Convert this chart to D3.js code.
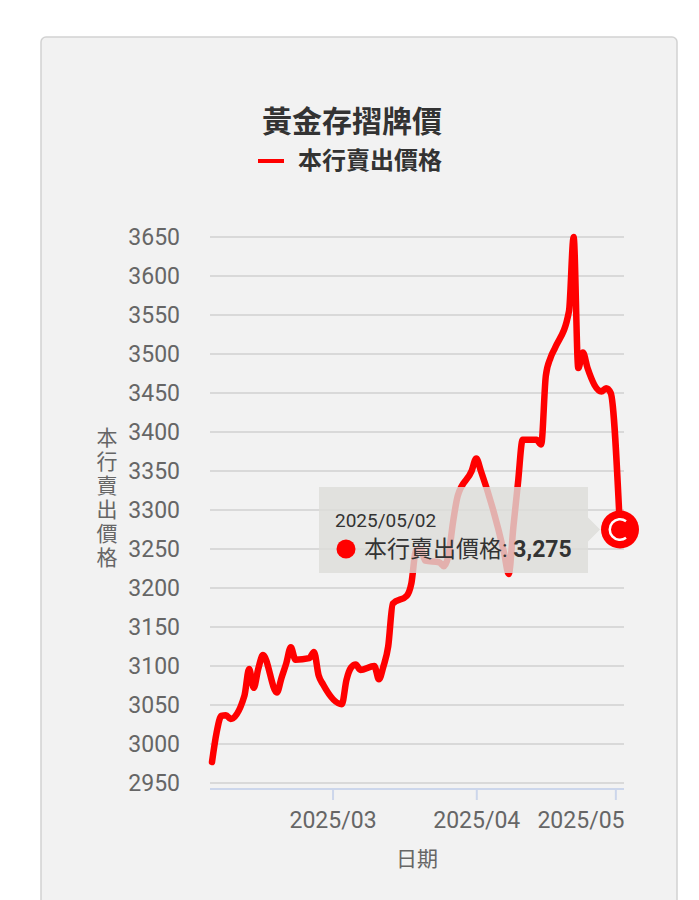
<!DOCTYPE html>
<html>
<head>
<meta charset="utf-8">
<script src="https://cdn.jsdelivr.net/npm/d3@7"></script>
<style>
  body { margin: 0; background: #fff; }
  svg { display: block; font-family: Roboto, "Noto Sans CJK TC", sans-serif; }
</style>
</head>
<body>
<svg id="chart"></svg>
<script>
var width = 699, height = 900;

// data (business days)
var dates = [
  "2025/02/03","2025/02/04","2025/02/05","2025/02/06","2025/02/07",
  "2025/02/10","2025/02/11","2025/02/12","2025/02/13","2025/02/14",
  "2025/02/17","2025/02/18","2025/02/19","2025/02/20","2025/02/21",
  "2025/02/24","2025/02/25","2025/02/26","2025/02/27",
  "2025/03/03","2025/03/04","2025/03/05","2025/03/06","2025/03/07",
  "2025/03/10","2025/03/11","2025/03/12","2025/03/13","2025/03/14",
  "2025/03/17","2025/03/18","2025/03/19","2025/03/20","2025/03/21",
  "2025/03/24","2025/03/25","2025/03/26","2025/03/27","2025/03/28",
  "2025/03/31","2025/04/01","2025/04/02",
  "2025/04/07","2025/04/08","2025/04/09","2025/04/10","2025/04/11",
  "2025/04/14","2025/04/15","2025/04/16","2025/04/17","2025/04/18",
  "2025/04/21","2025/04/22","2025/04/23","2025/04/24","2025/04/25",
  "2025/04/28","2025/04/29","2025/04/30","2025/05/02"
];
var prices = [
  2977, 3015, 3036, 3037, 3032,
  3062, 3096, 3072, 3097, 3114,
  3066, 3085, 3103, 3124, 3108,
  3110, 3118, 3088, 3076,
  3051, 3082, 3098, 3102, 3095,
  3100, 3083, 3100, 3125, 3180,
  3190, 3206, 3248, 3250, 3235,
  3233, 3228, 3242, 3285, 3318,
  3350, 3366, 3350,
  3245, 3218, 3278, 3335, 3390,
  3390, 3384, 3472, 3495, 3508,
  3555, 3650, 3482, 3502, 3482,
  3452, 3456, 3450, 3275
];
var yTicks = [2950, 3000, 3050, 3100, 3150, 3200, 3250, 3300, 3350, 3400, 3450, 3500, 3550, 3600, 3650];
var xTicks = ["2025/03/01", "2025/04/01", "2025/05/01"];

var title = "黃金存摺牌價";
var seriesName = "本行賣出價格";
var xTitle = "日期";
var hoverIndex = dates.length - 1;

var parse = d3.timeParse("%Y/%m/%d");
var data = dates.map((d, i) => ({ date: parse(d), value: prices[i] }));

var plotLeft = 210, plotRight = 624, plotTop = 237, plotBottom = 783;

var x = d3.scaleTime()
    .domain(d3.extent(data, d => d.date))
    .range([212, 620]);

var y = d3.scaleLinear()
    .domain([2950, 3650])
    .range([plotBottom, plotTop]);

const svg = d3.select("svg#chart")
    .attr("width", width)
    .attr("height", height);

// card
svg.append("rect")
    .attr("x", 41).attr("y", 37)
    .attr("width", 636).attr("height", 900)
    .attr("rx", 5)
    .style("fill", "#f2f2f2")
    .style("stroke", "#d2d2d2")
    .style("stroke-width", 1.5);

// title + legend
svg.append("text")
    .attr("x", 352).attr("y", 132)
    .attr("text-anchor", "middle")
    .style("font-size", "30px")
    .style("font-weight", "bold")
    .style("fill", "#333")
    .text(title);

svg.append("line")
    .attr("x1", 258).attr("x2", 284)
    .attr("y1", 161).attr("y2", 161)
    .style("stroke", "#ff0000")
    .style("stroke-width", 4);

svg.append("text")
    .attr("x", 298).attr("y", 169)
    .style("font-size", "24px")
    .style("font-weight", "bold")
    .style("fill", "#333")
    .text(seriesName);

// grid
const grid = svg.append("g").attr("id", "grid");
grid.selectAll("line").data(yTicks)
    .enter().append("line")
    .attr("x1", plotLeft).attr("x2", plotRight)
    .attr("y1", d => y(d)).attr("y2", d => y(d))
    .style("stroke", "#d9d9d9")
    .style("stroke-width", 2);

// y labels
svg.append("g").selectAll("text").data(yTicks)
    .enter().append("text")
    .attr("x", 180)
    .attr("y", d => y(d) + 8)
    .attr("text-anchor", "end")
    .style("font-size", "23px")
    .style("fill", "#666")
    .text(d => d);

// y title, stacked upright
svg.append("g").selectAll("text").data(seriesName.split(""))
    .enter().append("text")
    .attr("x", 107)
    .attr("y", (d, i) => 445 + i * 24)
    .attr("text-anchor", "middle")
    .style("font-size", "21px")
    .style("fill", "#666")
    .text(d => d);

// x axis
const xAxis = svg.append("g")
    .attr("transform", "translate(0,789)")
    .call(d3.axisBottom(x)
        .tickValues(xTicks.map(parse))
        .tickFormat(d3.timeFormat("%Y/%m"))
        .tickSize(11)
        .tickPadding(12));

xAxis.select(".domain")
    .attr("d", "M" + plotLeft + ",0H" + plotRight)
    .style("stroke", "#ccd6eb")
    .style("stroke-width", 2);
xAxis.selectAll(".tick line")
    .style("stroke", "#ccd6eb")
    .style("stroke-width", 2);
xAxis.selectAll(".tick text")
    .style("font-size", "23px")
    .style("font-family", "Roboto, sans-serif")
    .style("fill", "#666");

// keep last label inside the plot
xAxis.selectAll(".tick").each(function(d) {
    var t = d3.select(this).select("text");
    var w = t.node().getComputedTextLength();
    var px = x(d);
    if (px + w / 2 > plotRight + 1) {
        t.attr("text-anchor", "end").attr("x", plotRight - px);
    }
});

svg.append("text")
    .attr("x", 417).attr("y", 866)
    .attr("text-anchor", "middle")
    .style("font-size", "21px")
    .style("fill", "#666")
    .text(xTitle);

// series line
const line = d3.line()
    .x(d => x(d.date))
    .y(d => y(d.value))
    .curve(d3.curveMonotoneX);

svg.append("path")
    .datum(data)
    .attr("d", line)
    .style("fill", "none")
    .style("stroke", "#ff0000")
    .style("stroke-width", 6.5)
    .style("stroke-linejoin", "round")
    .style("stroke-linecap", "round");

// hover marker
var hp = data[hoverIndex];
var mx = x(hp.date), my = y(hp.value);
svg.append("circle")
    .attr("cx", mx).attr("cy", my).attr("r", 19)
    .style("fill", "#ff0000");
svg.append("path")
    .attr("transform", "translate(" + mx + "," + my + ")")
    .attr("d", d3.arc().innerRadius(9).outerRadius(11.5)
        .startAngle(Math.PI * 0.8).endAngle(Math.PI * 2.2))
    .style("fill", "#fff");

// tooltip
const tip = svg.append("g").attr("id", "tooltip");
var tx0 = 319, tx1 = 588, ty0 = 487, ty1 = 573, tipY = my;
tip.append("path")
    .attr("d", "M" + tx0 + "," + ty0 + "H" + tx1 + "V" + (tipY - 12) +
        "L" + (tx1 + 12) + "," + tipY + "L" + tx1 + "," + (tipY + 12) +
        "V" + ty1 + "H" + tx0 + "Z")
    .style("fill", "rgb(220,220,216)")
    .style("fill-opacity", 0.8);

tip.append("text")
    .attr("x", 335).attr("y", 527)
    .style("font-size", "19px")
    .style("fill", "#333")
    .text(dates[hoverIndex]);

tip.append("circle")
    .attr("cx", 346).attr("cy", 549).attr("r", 9.5)
    .style("fill", "#ff0000");

var tl = tip.append("text")
    .attr("x", 364).attr("y", 557)
    .style("font-size", "23px")
    .style("fill", "#333");
tl.append("tspan").text(seriesName + ": ");
tl.append("tspan").style("font-weight", "bold").text(d3.format(",")(hp.value));
</script>
</body>
</html>
